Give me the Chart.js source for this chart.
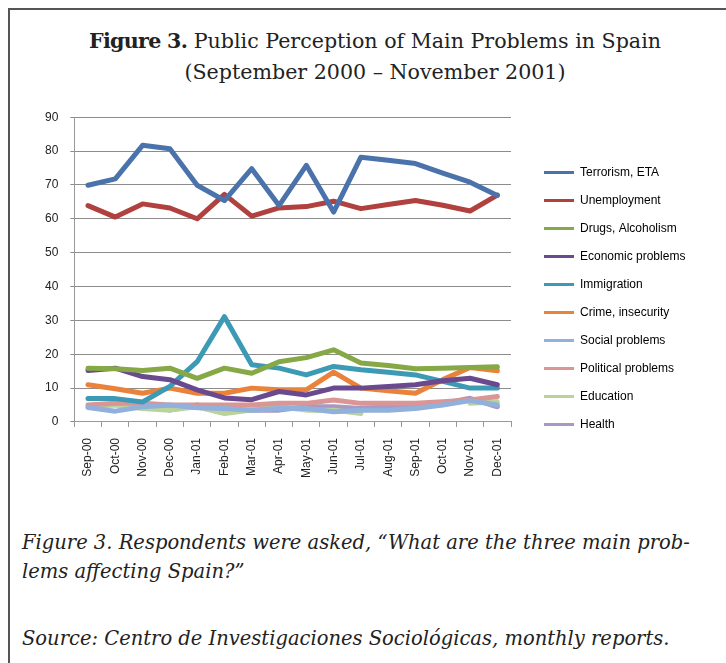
<!DOCTYPE html>
<html>
<head>
<meta charset="utf-8">
<script src="https://cdn.jsdelivr.net/npm/chart.js@4/dist/chart.umd.min.js"></script>
<style>
  html, body { margin:0; padding:0; background:#fff; }
  body { width:726px; height:663px; position:relative; overflow:hidden; }
  #frame { position:absolute; left:8px; top:8px; width:730px; height:670px; border-left:2px solid #555; border-top:2px solid #555; }
  .title { position:absolute; left:0; width:750px; text-align:center; font-family:"DejaVu Serif",serif; font-size:20.6px; color:#222; }
  .title b { letter-spacing:-0.7px; }
  .cap { position:absolute; left:22px; font-family:"DejaVu Serif",serif; font-style:italic; font-size:19.5px; color:#222; white-space:nowrap; }
  #chartWrap { position:absolute; left:33px; top:98px; width:660px; height:391px; }
</style>
</head>
<body>
<div id="frame"></div>
<div class="title" style="top:29px;"><b>Figure 3.</b> Public Perception of Main Problems in Spain</div>
<div class="title" style="top:60px;">(September 2000 – November 2001)</div>
<div id="chartWrap"><canvas id="c"></canvas></div>
<div class="cap" style="top:531px;">Figure 3. Respondents were asked, “What are the three main prob-</div>
<div class="cap" style="top:560px;">lems affecting Spain?”</div>
<div class="cap" style="top:627px;">Source: Centro de Investigaciones Sociológicas, monthly reports.</div>
<script>
const months = ["Sep-00","Oct-00","Nov-00","Dec-00","Jan-01","Feb-01","Mar-01","Apr-01","May-01","Jun-01","Jul-01","Aug-01","Sep-01","Oct-01","Nov-01","Dec-01"];
const yTicks = [0,10,20,30,40,50,60,70,80,90];
const seriesNames = ["Terrorism, ETA","Unemployment","Drugs, Alcoholism","Economic problems","Immigration","Crime, insecurity","Social problems","Political problems","Education","Health"];
const terrorism   = [69.9,71.8,81.7,80.7,69.9,65.4,74.8,63.9,75.8,62.0,78.2,77.3,76.3,73.5,70.8,66.9];
const unemployment= [63.9,60.5,64.4,63.2,60.0,67.2,60.8,63.2,63.6,65.2,63.0,64.2,65.4,64.0,62.3,67.0];
const drugs       = [15.9,15.7,15.2,15.9,12.9,15.9,14.4,17.8,19.0,21.3,17.4,16.7,15.7,15.9,16.1,16.3];
const economic    = [15.2,15.9,13.4,12.5,9.5,7.1,6.6,9.0,8.0,10.0,10.0,10.5,11.0,12.2,12.9,11.0];
const immigration = [6.9,6.9,5.9,10.5,17.8,31.1,16.9,15.9,13.9,16.4,15.4,14.7,13.9,12.0,10.0,10.0];
const crime       = [11.0,9.8,8.5,10.0,8.5,8.5,10.0,9.5,9.5,14.7,10.0,9.2,8.5,12.5,16.1,15.1];
const social      = [4.3,3.2,4.5,5.0,4.2,4.0,3.5,4.0,4.0,3.0,3.5,3.5,4.0,5.0,6.3,5.0];
const political   = [5.0,5.5,5.5,5.0,5.0,5.0,5.0,5.5,5.5,6.5,5.5,5.5,5.5,6.0,6.5,7.5];
const education   = [4.5,5.0,4.0,3.5,4.5,2.5,3.5,4.5,3.5,3.5,2.5,null,null,null,5.5,6.0];
const health      = [null,5.5,5.0,3.5,5.0,3.5,3.5,3.5,4.5,4.5,4.0,4.5,4.5,5.5,7.0,4.5];
const colors = ["#4A72AB","#B0413E","#86A846","#6A4A8E","#3D9AB5","#E9823A","#92B0DC","#D99694","#B9D39A","#A898C2"];
const values = [terrorism,unemployment,drugs,economic,immigration,crime,social,political,education,health];

const datasets = seriesNames.map((n,i)=>({
  label:n, data:values[i], borderColor:colors[i], backgroundColor:colors[i],
  borderWidth:5, pointRadius:0, tension:0, spanGaps:false, fill:false,
  borderCapStyle:'round', borderJoinStyle:'round', order:i
}));

const font12 = {family:'"Liberation Sans", Arial, sans-serif', size:12};
const LEGEND_GAP = 17;

const legendGap = {
  id:'legendGap',
  beforeLayout(chart){
    const lg = chart.legend;
    if (lg && !lg._gapPatched) {
      const f = lg.fit;
      lg.fit = function(){ f.call(this); this.width += LEGEND_GAP; };
      lg._gapPatched = true;
    }
  },
  afterLayout(chart){
    const lg = chart.legend;
    if (lg) { lg.left += LEGEND_GAP; lg.right += LEGEND_GAP; lg.top += 3; lg.bottom += 3; }
  }
};

new Chart(document.getElementById('c'), {
  type:'line',
  data:{ labels:months, datasets:datasets },
  plugins:[legendGap],
  options:{
    responsive:true, maintainAspectRatio:false, animation:false,
    layout:{ padding:{ left:0, right:0, top:4, bottom:0 } },
    plugins:{
      tooltip:{enabled:false},
      legend:{
        position:'right', align:'center',
        labels:{
          font:font12, color:'#222', boxWidth:30, boxHeight:3, padding:16,
          generateLabels:(chart)=>chart.data.datasets.map((d,i)=>({
            text:d.label, fillStyle:d.borderColor, strokeStyle:d.borderColor, lineWidth:0, hidden:false, datasetIndex:i
          }))
        }
      }
    },
    scales:{
      x:{
        offset:true,
        grid:{ offset:true, drawOnChartArea:false, drawTicks:true, tickLength:5, color:'#999' },
        border:{ color:'#999', width:1 },
        ticks:{ maxRotation:90, minRotation:90, autoSkip:false, color:'#222', font:font12, padding:11 }
      },
      y:{
        min:0, max:90,
        afterBuildTicks:(ax)=>{ ax.ticks = yTicks.map(v=>({value:v})); },
        grid:{ color:'#8c8c8c', lineWidth:1, tickLength:4 },
        border:{ color:'#999', width:1 },
        ticks:{ color:'#222', font:font12, padding:12 }
      }
    }
  }
});
</script>
</body>
</html>
